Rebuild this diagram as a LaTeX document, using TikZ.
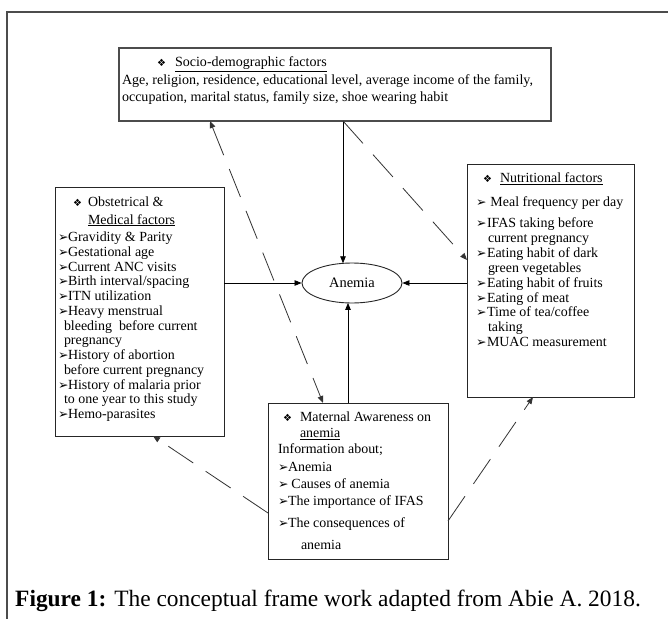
\documentclass[tikz,border=0pt]{standalone}
\usepackage{fontspec}
\setmainfont{Liberation Serif}
\newfontfamily\dvfont{DejaVu Sans}
\usetikzlibrary{arrows.meta,shapes.geometric,calc}
\newcommand\mydia{{\dvfont\fontsize{10}{10}\selectfont ❖}}
\newcommand\myarw{\makebox[10bp][l]{\dvfont\fontsize{12.5}{10}\selectfont ➢}}
\newcommand\myarwn{\makebox[11bp][l]{\dvfont\fontsize{12.5}{10}\selectfont ➢}}
\begin{document}
\begin{tikzpicture}[x=1bp,y=-1bp,
  box/.style={draw=black!85,line width=0.9bp,inner sep=0,outer sep=0,anchor=north west},
  txt/.style={anchor=base west,inner sep=0,outer sep=0,font=\fontsize{14}{16}\selectfont},
  stxt/.style={anchor=base west,inner sep=0,outer sep=0,font=\fontsize{14.1}{16}\selectfont},
  arr/.style={-{Triangle[length=7bp,width=5.5bp]},line width=0.8bp},
  darr/.style={arr,draw=black!80,dash pattern=on 30bp off 15bp},
  ddarr/.style={{Triangle[length=7bp,width=5.5bp]}-{Triangle[length=7bp,width=5.5bp]},line width=0.8bp,draw=black!80,dash pattern=on 30bp off 15bp},
]
\useasboundingbox (0,0) rectangle (668,619);
\fill[white] (0,0) rectangle (668,619);
\draw[black!70,line width=1.2bp] (7,619) -- (7,12) -- (668,12);

% boxes
\node[box,draw=black!70,line width=1.1bp,minimum width=432bp,minimum height=73bp] (socio) at (119,48) {};
\node[box,minimum width=169bp,minimum height=249bp] (obst) at (55,187) {};
\node[box,minimum width=167bp,minimum height=233bp] (nutr) at (467,164) {};
\node[box,minimum width=180bp,minimum height=156bp] (mat) at (268,403) {};
\node[ellipse,draw=black!85,line width=0.9bp,minimum width=100bp,minimum height=40bp,inner sep=0,font=\fontsize{14.5}{16}\selectfont] (anemia) at (352,283) {Anemia};

% socio text
\node[stxt] (sd) at (157,67) {\mydia};
\node[stxt] (sh) at (175,67) {\underline{Socio-demographic factors}};
\node[stxt] (s1) at (122,84.5) {Age, religion, residence, educational level, average income of the family,};
\node[stxt] (s2) at (122,102) {occupation, marital status, family size, shoe wearing habit};

% obstetric text
\node[txt] (od) at (73,206) {\mydia};
\node[txt] (oh1) at (88,206) {Obstetrical \&};
\node[txt] (oh2) at (88,224) {\underline{Medical factors}};
\node[txt] (o1) at (58,241.5) {\myarw Gravidity \& Parity};
\node[txt] (o2) at (58,256.25) {\myarw Gestational age};
\node[txt] (o3) at (58,271) {\myarw Current ANC visits};
\node[txt] (o4) at (58,285.75) {\myarw Birth interval/spacing};
\node[txt] (o5) at (58,300.5) {\myarw ITN utilization};
\node[txt] (o6) at (58,315.25) {\myarw Heavy menstrual};
\node[txt] (o7) at (64,330) {bleeding\ \ before current};
\node[txt] (o8) at (64,344.75) {pregnancy};
\node[txt] (o9) at (58,359.5) {\myarw History of abortion};
\node[txt] (o10) at (64,374.25) {before current pregnancy};
\node[txt] (o11) at (58,389) {\myarw History of malaria prior};
\node[txt] (o12) at (64,403.75) {to one year to this study};
\node[txt] (o13) at (58,418.5) {\myarw Hemo-parasites};

% nutritional text
\node[txt] (nd) at (483,182.5) {\mydia};
\node[txt] (nh) at (500,182.5) {\underline{Nutritional factors}};
\node[txt] (n1) at (476,206.5) {\myarwn\ Meal frequency per day};
\node[txt] (n2) at (476,227.5) {\myarwn IFAS taking before};
\node[txt] (n3) at (488,242.4) {current pregnancy};
\node[txt] (n4) at (476,257.3) {\myarwn Eating habit of dark};
\node[txt] (n5) at (488,272.2) {green vegetables};
\node[txt] (n6) at (476,287.1) {\myarwn Eating habit of fruits};
\node[txt] (n7) at (476,302) {\myarwn Eating of meat};
\node[txt] (n8) at (476,316.9) {\myarwn Time of tea/coffee};
\node[txt] (n9) at (488,331.8) {taking};
\node[txt] (n10) at (476,346.7) {\myarwn MUAC measurement};

% maternal text
\node[txt] (md) at (283,421.5) {\mydia};
\node[txt] (mh1) at (300,421.5) {Maternal Awareness on};
\node[txt] (mh2) at (300,437.5) {\underline{anemia}};
\node[txt] (m0) at (278,453.5) {Information about;};
\node[txt] (m1) at (278,471.5) {\myarw Anemia};
\node[txt] (m2) at (278,488.5) {\myarw\ Causes of anemia};
\node[txt] (m3) at (278,505.5) {\myarw The importance of IFAS};
\node[txt] (m4) at (278,527.5) {\myarw The consequences of};
\node[txt] (m5) at (301,549.5) {anemia};

% caption
\node[anchor=base west,inner sep=0,font=\fontsize{23.5}{26}\selectfont] (cap) at (15,606) {\textbf{Figure 1:} The conceptual frame work adapted from Abie A. 2018.};

% anchor points
\coordinate (sL) at ($(socio.south west)+(91,0)$);
\coordinate (sM) at ($(socio.south west)+(224,0)$);
\coordinate (aT) at ($(anemia.center)+(-9,-19.7)$);
\coordinate (aB) at ($(anemia.center)+(-4,19.9)$);
\coordinate (mT) at ($(mat.north west)+(80,0)$);
\coordinate (mTd) at ($(mat.north west)+(55,0)$);
\coordinate (nL) at ($(nutr.north west)+(0,96)$);
\coordinate (mL) at ($(mat.north west)+(0,110)$);
\coordinate (oB) at ($(obst.south west)+(98,0)$);
\coordinate (mR) at ($(mat.north east)+(0,118)$);
\coordinate (nB) at ($(nutr.south west)+(66,0)$);

% solid arrows
\draw[arr] (sM) -- (aT);
\draw[arr] (mT) -- (aB);
\draw[arr] (obst.east |- anemia.west) -- (anemia.west);
\draw[arr] (nutr.west |- anemia.east) -- (anemia.east);

% dashed arrows
\draw[ddarr] (sL) -- (mTd);
\draw[darr] (sM) -- (nL);
\draw[darr] (mL) -- (oB);
\draw[darr] (mR) -- (nB);
\end{tikzpicture}
\end{document}
